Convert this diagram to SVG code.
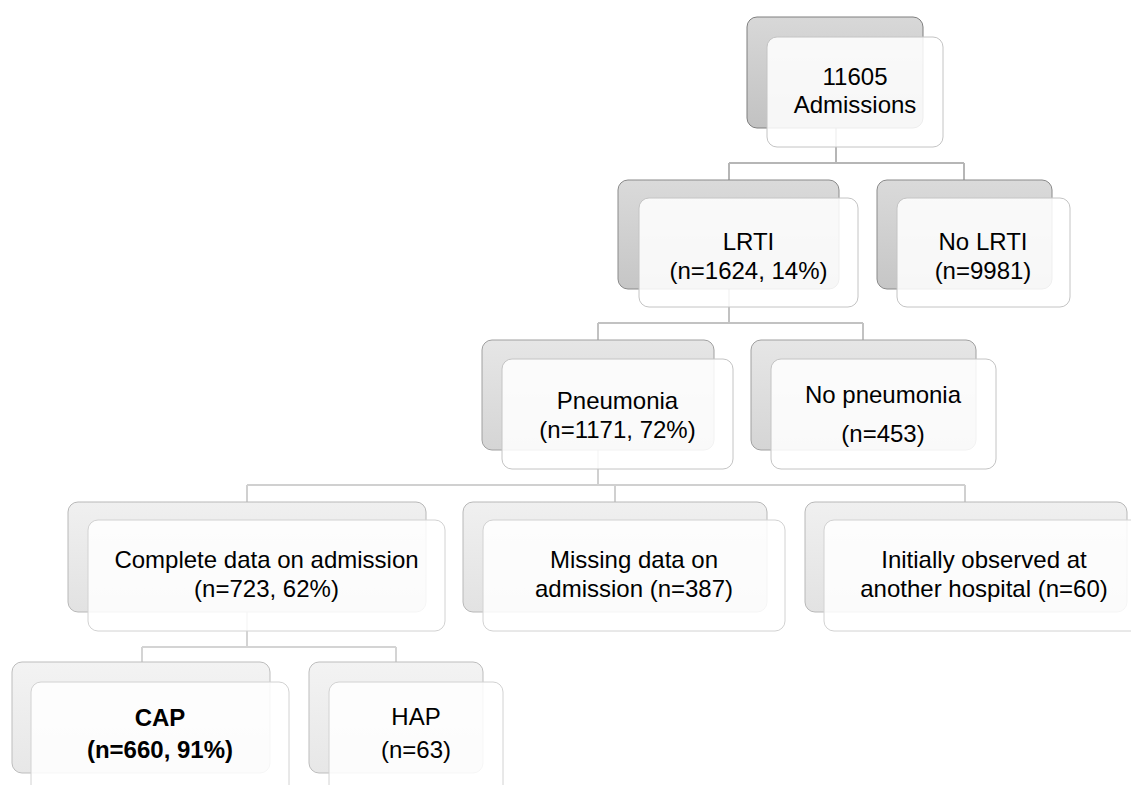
<svg xmlns="http://www.w3.org/2000/svg" width="1131" height="785" viewBox="0 0 1131 785">
  <defs>
    <linearGradient id="g0" x1="0" y1="0" x2="0" y2="1">
      <stop offset="0" stop-color="#d8d8d8"/>
      <stop offset="1" stop-color="#c2c2c2"/>
    </linearGradient>
    <linearGradient id="g1" x1="0" y1="0" x2="0" y2="1">
      <stop offset="0" stop-color="#dadada"/>
      <stop offset="1" stop-color="#c6c6c6"/>
    </linearGradient>
    <linearGradient id="g2" x1="0" y1="0" x2="0" y2="1">
      <stop offset="0" stop-color="#e6e6e6"/>
      <stop offset="1" stop-color="#d5d5d5"/>
    </linearGradient>
    <linearGradient id="g3" x1="0" y1="0" x2="0" y2="1">
      <stop offset="0" stop-color="#f0f0f0"/>
      <stop offset="1" stop-color="#e2e2e2"/>
    </linearGradient>
    <linearGradient id="g4" x1="0" y1="0" x2="0" y2="1">
      <stop offset="0" stop-color="#f3f3f3"/>
      <stop offset="1" stop-color="#e7e7e7"/>
    </linearGradient>
  </defs>
  <style>
    .b0 { fill: url(#g0); stroke: #7f7f7f; stroke-width: 1; }
    .b1 { fill: url(#g1); stroke: #8a8a8a; stroke-width: 1; }
    .b2 { fill: url(#g2); stroke: #a0a0a0; stroke-width: 1; }
    .b3 { fill: url(#g3); stroke: #b8b8b8; stroke-width: 1; }
    .b4 { fill: url(#g4); stroke: #bdbdbd; stroke-width: 1; }
    .f { fill: #ffffff; fill-opacity: 0.86; stroke: #c4c4c4; stroke-width: 1; }
    .fl { fill: #ffffff; fill-opacity: 0.86; stroke: #d2d2d2; stroke-width: 1; }
    .c { fill: none; stroke-width: 2; }
    .c1 { stroke: #b6b6b6; }
    .c2 { stroke: #c2c2c2; }
    .c3 { stroke: #d0d0d0; }
    .c4 { stroke: #d4d4d4; }
    text { font-family: "Liberation Sans", Arial, sans-serif; font-size: 24px; fill: #000000; text-anchor: middle; }
    .bold { font-weight: bold; }
  </style>

  <g id="connectors">
    <path class="c c1" d="M836,128 V163 M729,163 H964 M729,163 V180 M964,163 V180"/>
    <path class="c c2" d="M729,289 V323 M598,323 H863 M598,323 V340 M863,323 V340"/>
    <path class="c c3" d="M598,450 V485 M247,485 H965 M247,485 V502 M615,485 V502 M965,485 V502"/>
    <path class="c c4" d="M247,612 V647 M142,647 H396 M142,647 V662 M396,647 V662"/>
  </g>

  <g id="node-admissions">
    <rect class="b0" x="747" y="17" width="176" height="111" rx="10"/>
    <rect class="f" x="767" y="37" width="176" height="110" rx="10"/>
    <text x="855" y="85">11605</text>
    <text x="855" y="113">Admissions</text>
  </g>

  <g id="node-lrti">
    <rect class="b1" x="618" y="180" width="221" height="109" rx="10"/>
    <rect class="f" x="639" y="198" width="219" height="109" rx="10"/>
    <text x="748.5" y="250">LRTI</text>
    <text x="748.5" y="279">(n=1624, 14%)</text>
  </g>

  <g id="node-no-lrti">
    <rect class="b1" x="877" y="180" width="175" height="109" rx="10"/>
    <rect class="f" x="897" y="198" width="173" height="109" rx="10"/>
    <text x="983" y="250">No LRTI</text>
    <text x="983" y="279">(n=9981)</text>
  </g>

  <g id="node-pneumonia">
    <rect class="b2" x="482" y="340" width="232" height="110" rx="10"/>
    <rect class="f" x="502" y="359" width="231" height="110" rx="10"/>
    <text x="617.5" y="409">Pneumonia</text>
    <text x="617.5" y="438">(n=1171, 72%)</text>
  </g>

  <g id="node-no-pneumonia">
    <rect class="b2" x="751" y="340" width="225" height="110" rx="10"/>
    <rect class="f" x="771" y="359" width="225" height="110" rx="10"/>
    <text x="883" y="403">No pneumonia</text>
    <text x="883" y="442">(n=453)</text>
  </g>

  <g id="node-complete">
    <rect class="b3" x="68" y="502" width="358" height="110" rx="10"/>
    <rect class="fl" x="88" y="520" width="357" height="111" rx="10"/>
    <text x="266.5" y="568">Complete data on admission</text>
    <text x="266.5" y="597">(n=723, 62%)</text>
  </g>

  <g id="node-missing">
    <rect class="b3" x="463" y="502" width="304" height="110" rx="10"/>
    <rect class="fl" x="483" y="520" width="302" height="111" rx="10"/>
    <text x="634" y="568">Missing data on</text>
    <text x="634" y="597">admission (n=387)</text>
  </g>

  <g id="node-other-hospital">
    <rect class="b3" x="805" y="502" width="322" height="110" rx="10"/>
    <rect class="fl" x="824" y="520" width="320" height="111" rx="10"/>
    <text x="984" y="568">Initially observed at</text>
    <text x="984" y="597">another hospital (n=60)</text>
  </g>

  <g id="node-cap">
    <rect class="b4" x="12" y="662" width="258" height="111" rx="10"/>
    <rect class="fl" x="31" y="682" width="258" height="120" rx="10"/>
    <text class="bold" x="160" y="726">CAP</text>
    <text class="bold" x="160" y="758">(n=660, 91%)</text>
  </g>

  <g id="node-hap">
    <rect class="b4" x="309" y="662" width="174" height="111" rx="10"/>
    <rect class="fl" x="329" y="682" width="174" height="120" rx="10"/>
    <text x="416" y="725">HAP</text>
    <text x="416" y="758">(n=63)</text>
  </g>
</svg>
